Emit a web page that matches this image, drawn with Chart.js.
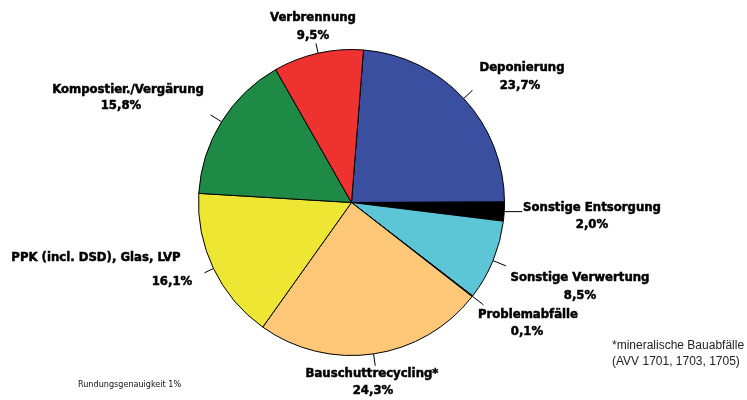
<!DOCTYPE html>
<html><head><meta charset="utf-8">
<script src="https://cdn.jsdelivr.net/npm/chart.js@4/dist/chart.umd.min.js"></script>
<style>html,body{margin:0;padding:0;background:#fff;}#wrap{position:relative;width:747px;height:400px;}</style>
</head><body><div id="wrap"><canvas id="c" width="747" height="400"></canvas></div>
<script>
const categories = ['Deponierung','Sonstige Entsorgung','Sonstige Verwertung','Problemabfälle','Bauschuttrecycling*','PPK (incl. DSD), Glas, LVP','Kompostier./Vergärung','Verbrennung'];
const shares = [23.7, 2.0, 8.5, 0.1, 24.3, 16.1, 15.8, 9.5];
const shareLabels = ['23,7%','2,0%','8,5%','0,1%','24,3%','16,1%','15,8%','9,5%'];
const sliceColors = ['#3a4fa0','#000000','#5cc6d6','#9a9a9a','#fcc878','#ede733','#1f8a46','#ee3230'];
const footLeft = 'Rundungsgenauigkeit 1%';
const footRight = ['*mineralische Bauabfälle','(AVV 1701, 1703, 1705)'];

// label layout (canvas px): name pos, value pos, leader type
const labelLayout = [
  {nx:522, ny:68,  vx:520, vy:86,  lead:12},
  {nx:592, ny:208, vx:592, vy:225, lead:'h'},
  {nx:580, ny:278, vx:580, vy:296, lead:14},
  {nx:528, ny:315, vx:527, vy:332, lead:14},
  {nx:372, ny:374, vx:373, vy:391, lead:12},
  {nx:96,  ny:258, vx:172, vy:282, lead:10},
  {nx:128, ny:90,  vx:121, vy:106, lead:13},
  {nx:313, ny:18,  vx:313, vy:36,  lead:10}
];
const FONT = 'bold 13px "DejaVu Sans Condensed", "Liberation Sans Narrow", "DejaVu Sans", sans-serif';

const labelPlugin = {
  id: 'pieLabels',
  afterDatasetsDraw(chart) {
    const ctx = chart.ctx;
    const meta = chart.getDatasetMeta(0);
    ctx.save();
    meta.data.forEach((arc, i) => {
      const p = arc.getProps(['x','y','startAngle','endAngle','outerRadius'], true);
      const mid = (p.startAngle + p.endAngle) / 2;
      const L = labelLayout[i];
      const sx = p.x + Math.cos(mid) * p.outerRadius;
      const sy = p.y + Math.sin(mid) * p.outerRadius;
      ctx.strokeStyle = '#000';
      ctx.lineWidth = 1;
      ctx.beginPath();
      if (L.lead === 'h') {
        ctx.moveTo(sx, sy); ctx.lineTo(sx + 18, sy);
      } else {
        ctx.moveTo(sx, sy);
        ctx.lineTo(p.x + Math.cos(mid) * (p.outerRadius + L.lead), p.y + Math.sin(mid) * (p.outerRadius + L.lead));
      }
      ctx.stroke();
      ctx.fillStyle = '#000';
      ctx.strokeStyle = '#000';
      ctx.lineWidth = 0.5;
      ctx.font = FONT;
      ctx.textAlign = 'center';
      ctx.textBaseline = 'middle';
      ctx.fillText(categories[i], L.nx, L.ny);
      ctx.strokeText(categories[i], L.nx, L.ny);
      ctx.fillText(shareLabels[i], L.vx, L.vy);
      ctx.strokeText(shareLabels[i], L.vx, L.vy);
    });
    ctx.fillStyle = '#111';
    ctx.font = '9px "Liberation Sans Narrow", "DejaVu Sans Condensed", sans-serif';
    ctx.textAlign = 'left';
    ctx.textBaseline = 'middle';
    ctx.fillText(footLeft, 78, 385);
    ctx.font = '12px "Liberation Sans", Arial, sans-serif';
    ctx.fillStyle = '#222';
    ctx.fillText(footRight[0], 612, 346);
    ctx.fillText(footRight[1], 612, 362);
    ctx.restore();
  }
};

new Chart(document.getElementById('c'), {
  type: 'pie',
  data: {
    labels: categories,
    datasets: [{
      data: shares,
      backgroundColor: sliceColors,
      borderColor: '#000',
      borderWidth: 1
    }]
  },
  options: {
    responsive: false,
    animation: false,
    rotation: 4.5,
    layout: {padding: {left: 198, right: 242, top: 49, bottom: 44}},
    plugins: {legend: {display: false}, tooltip: {enabled: false}}
  },
  plugins: [labelPlugin]
});
</script></body></html>
